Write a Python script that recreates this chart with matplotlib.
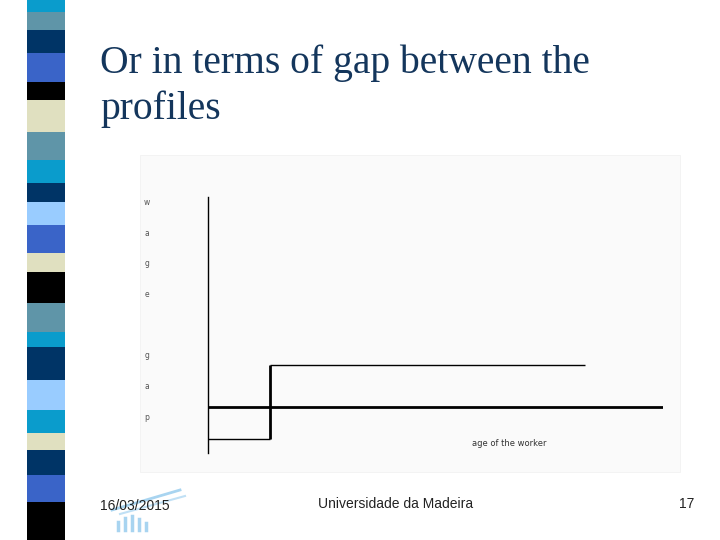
import matplotlib.pyplot as plt
from matplotlib.patches import Rectangle

W, H = 720, 540

# decorative stripe on the left of the slide (band heights in px, top to bottom)
band_heights = [12, 18, 23, 29, 18, 32, 28, 23, 19, 23, 28, 19, 31, 29, 15,
                33, 30, 23, 17, 25, 27, 38]
band_colors = ["#0a9ccc", "#5f95a8", "#003466", "#3a64c8", "#000000", "#e0e0c0",
               "#5f95a8", "#0a9ccc", "#003466", "#99ccff", "#3a64c8", "#e0e0c0",
               "#000000", "#5f95a8", "#0a9ccc", "#003466", "#99ccff", "#0a9ccc",
               "#e0e0c0", "#003466", "#3a64c8", "#000000"]

# chart data (age in % of range, gap in % of axis height)
step_age = [0, 13.6, 82.9]
step_gap = [5.5, 34.4]
flat_gap = 18
age_max = 100

title = "Or in terms of gap between the\nprofiles"
xlabel = "age of the worker"
ylabel = "wage gap"
footer_date = "16/03/2015"
footer_mid = "Universidade da Madeira"
page_no = "17"


def fx(px):
    return px / W


def fy(py):
    return 1 - py / H


fig = plt.figure(figsize=(7.2, 5.4), dpi=100)
fig.patch.set_facecolor("white")

# stripe
bottoms = []
acc = 0
for h in band_heights:
    bottoms.append(acc)
    acc += h
sax = fig.add_axes([fx(27), 0, fx(38), 1])
sax.bar([0] * len(band_heights), band_heights, bottom=bottoms, width=1.0,
        color=band_colors, align="edge")
sax.set_xlim(0, 1)
sax.set_ylim(H, 0)
sax.axis("off")

# title
fig.text(fx(100), fy(44), title, fontsize=28.5, family="Liberation Serif",
         color="#14365c", va="top", ha="left", linespacing=1.3)

# faint chart panel
fig.patches.append(Rectangle((fx(140), fy(472)), fx(540), (472 - 155) / H,
                             transform=fig.transFigure, facecolor="#fafafa",
                             edgecolor="#f0f0f0", lw=0.5, zorder=-5))

ax = fig.add_axes([fx(208), fy(453), fx(455), 256 / H])
ax.set_zorder(2)
ax.patch.set_alpha(0)
ax.set_xlim(0, age_max)
ax.set_ylim(0, 100)
for s in ["top", "right", "bottom"]:
    ax.spines[s].set_visible(False)
ax.spines["left"].set_linewidth(1.0)
ax.set_xticks([])
ax.set_yticks([])

ax.hlines(step_gap[0], step_age[0], step_age[1], color="black", lw=1.0)
ax.vlines(step_age[1], step_gap[0], step_gap[1], color="black", lw=2.0)
ax.hlines(step_gap[1], step_age[1], step_age[2], color="black", lw=1.0)
ax.hlines(flat_gap, 0, age_max, color="black", lw=2.0)

fig.text(fx(472), fy(444), xlabel, fontsize=6, color="#333333",
         ha="left", va="center", family="DejaVu Sans", zorder=3)
fig.text(fx(147), fy(198), "\n".join(ylabel), fontsize=5.5, color="#555555",
         ha="center", va="top", linespacing=4.1, family="DejaVu Sans", zorder=3)

# footer logo (faint)
fig.lines.append(plt.Line2D([fx(112), fx(180)], [fy(510), fy(490)],
                            transform=fig.transFigure, color="#a8d4f0", lw=2))
fig.lines.append(plt.Line2D([fx(120), fx(185)], [fy(514), fy(496)],
                            transform=fig.transFigure, color="#c0e0f5", lw=1.5))
for i, h in enumerate([8, 12, 14, 11, 7]):
    xp = 118 + i * 7
    fig.lines.append(plt.Line2D([fx(xp), fx(xp)], [fy(530), fy(530 - h)],
                                transform=fig.transFigure, color="#a8d4f0",
                                lw=2.5))

fig.text(fx(100), fy(506), footer_date, fontsize=10, family="Liberation Sans",
         color="#222222", ha="left", va="center")
fig.text(fx(396), fy(504), footer_mid, fontsize=10, family="Liberation Sans",
         color="#222222", ha="center", va="center")
fig.text(fx(694), fy(504), page_no, fontsize=10, family="Liberation Sans",
         color="#222222", ha="right", va="center")

fig.savefig("out.png", dpi=100)
